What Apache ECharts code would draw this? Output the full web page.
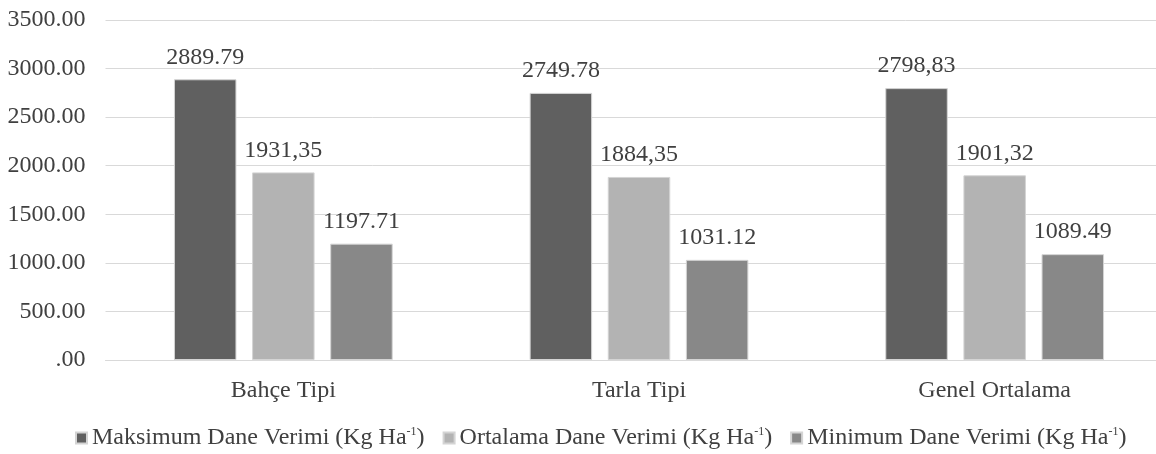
<!DOCTYPE html>
<html>
<head>
<meta charset="utf-8">
<title>Dane Verimi</title>
<script src="https://cdn.jsdelivr.net/npm/echarts@6/dist/echarts.min.js"></script>
<style>
  html, body { margin: 0; padding: 0; background: #ffffff; overflow: hidden; }
  /* the plot area runs on past the right edge of the window */
  #chart { width: 1180px; height: 454px; }
</style>
</head>
<body>
<div id="chart"></div>
<script>
// Categories along the x axis
const categories = ['Bahçe Tipi', 'Tarla Tipi', 'Genel Ortalama'];

// Series values, written as printed on the bar labels (decimal mark kept as shown)
const maksimumLabels = ['2889.79', '2749.78', '2798,83'];
const ortalamaLabels = ['1931,35', '1884,35', '1901,32'];
const minimumLabels  = ['1197.71', '1031.12', '1089.49'];

// Series names (legend)
const seriesNames = ['Maksimum Dane Verimi', 'Ortalama Dane Verimi', 'Minimum Dane Verimi'];
const unitText = '(Kg Ha';
const unitSup = '-1';

// Y axis range and ticks
const yMin = 0;
const yMax = 3500;
const yStep = 500;

const toNumber = s => parseFloat(String(s).replace(',', '.'));

const FONT = "'Liberation Serif', 'Times New Roman', serif";
const FONT_SIZE = 24;
const TEXT_COLOR = '#404040';
const colors = ['#606060', '#b3b3b3', '#888888'];

function makeSeries(name, labels, color) {
  return {
    name: name,
    type: 'bar',
    barWidth: 62.5,
    barGap: '25%',
    data: labels.map(s => ({ value: toNumber(s), labelText: s })),
    itemStyle: { color: color, borderColor: '#d4d4d4', borderWidth: 1 },
    label: {
      show: true,
      position: 'top',
      distance: 10,
      fontFamily: FONT,
      fontSize: FONT_SIZE,
      color: TEXT_COLOR,
      formatter: p => p.data.labelText
    },
    emphasis: { disabled: true }
  };
}

const chart = echarts.init(document.getElementById('chart'), null, { renderer: 'canvas' });

chart.setOption({
  animation: false,
  backgroundColor: '#ffffff',
  color: colors,
  grid: { left: 105.5, top: 20, width: 1067, height: 340, containLabel: false },
  xAxis: {
    type: 'category',
    data: categories,
    axisLine: { show: true, lineStyle: { color: '#d9d9d9', width: 1 } },
    axisTick: { show: false },
    axisLabel: { fontFamily: FONT, fontSize: FONT_SIZE, color: TEXT_COLOR, margin: 19 }
  },
  yAxis: {
    type: 'value',
    min: yMin,
    max: yMax,
    interval: yStep,
    axisLine: { show: false },
    axisTick: { show: false },
    splitLine: { lineStyle: { color: '#d9d9d9', width: 1 } },
    axisLabel: {
      fontFamily: FONT,
      fontSize: FONT_SIZE,
      color: TEXT_COLOR,
      margin: 20,
      formatter: v => v.toFixed(2).replace(/^0(?=\.)/, '')
    }
  },
  legend: {
    left: 75,
    top: 426,
    padding: 0,
    itemWidth: 11,
    itemHeight: 11,
    itemGap: 18,
    icon: 'rect',
    data: seriesNames,
    formatter: name => '{t|' + name + ' ' + unitText + '}{s|' + unitSup + '}{t|)}',
    textStyle: {
      color: TEXT_COLOR,
      rich: {
        t: { fontFamily: FONT, fontSize: FONT_SIZE, color: TEXT_COLOR },
        s: { fontFamily: FONT, fontSize: 12, color: TEXT_COLOR, verticalAlign: 'top' }
      }
    }
  },
  series: [
    makeSeries(seriesNames[0], maksimumLabels, colors[0]),
    makeSeries(seriesNames[1], ortalamaLabels, colors[1]),
    makeSeries(seriesNames[2], minimumLabels, colors[2])
  ]
});
</script>
</body>
</html>
